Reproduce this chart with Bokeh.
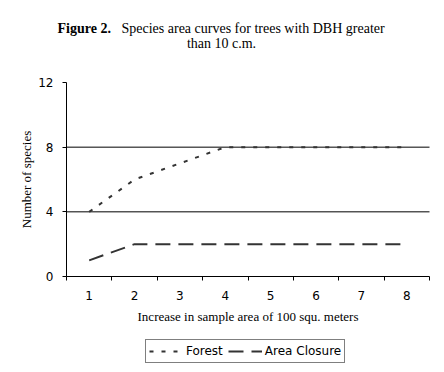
from bokeh.plotting import figure
from bokeh.models import Range1d, FixedTicker, Label, Legend, LegendItem
from bokeh.embed import file_html
from bokeh.resources import INLINE

# ---- data ----
categories = [1, 2, 3, 4, 5, 6, 7, 8]
tick_labels = ["1", "2", "3", "4", "5", "6", "7", "8"]
forest = [4, 6, 7, 8, 8, 8, 8, 8]
area_closure = [1, 2, 2, 2, 2, 2, 2, 2]
y_ticks = [0, 4, 8, 12]
grid_ticks = [4, 8]

# ---- layout (pixel geometry of the plot area) ----
W, H = 436, 364
LEFT_PX, RIGHT_PX, TOP_PX, BOTTOM_PX = 66, 429, 82, 276
x_lo, x_hi = categories[0] - 0.5, categories[-1] + 0.5
y_lo, y_hi = y_ticks[0], y_ticks[-1]
ppx = (RIGHT_PX - LEFT_PX) / (x_hi - x_lo)
ppy = (BOTTOM_PX - TOP_PX) / (y_hi - y_lo)


def xd(px):
    return x_lo + (px - LEFT_PX) / ppx


def yd(py):
    return y_lo + (BOTTOM_PX - py) / ppy


p = figure(width=W, height=H, output_backend="svg", toolbar_location=None,
           x_range=Range1d(xd(0), xd(W)), y_range=Range1d(yd(H), yd(0)),
           min_border_left=0, min_border_right=0, min_border_top=0,
           min_border_bottom=0)
p.outline_line_color = None
p.background_fill_color = "white"
p.border_fill_color = "white"
p.xgrid.grid_line_color = None
p.ygrid.grid_line_color = None

# horizontal gridlines limited to the plot area
p.segment(x0=[x_lo] * len(grid_ticks), y0=grid_ticks,
          x1=[x_hi] * len(grid_ticks), y1=grid_ticks,
          line_color="black", line_width=1)

# ---- x axis ----
xa = p.xaxis[0]
xa.fixed_location = y_lo
xa.bounds = (x_lo, x_hi)
xa.ticker = FixedTicker(ticks=categories,
                        minor_ticks=[c - 0.5 for c in categories] + [categories[-1] + 0.5])
xa.major_label_overrides = {c: t for c, t in zip(categories, tick_labels)}
xa.major_tick_line_color = None
xa.major_tick_out = 0
xa.major_tick_in = 0
xa.minor_tick_out = 4
xa.minor_tick_in = 0
xa.minor_tick_line_color = "black"
xa.axis_line_color = "black"
xa.major_label_text_font = "DejaVu Sans"
xa.major_label_text_font_size = "12px"
xa.major_label_text_color = "black"
xa.major_label_standoff = 10
xa.axis_label = "Increase in sample area of 100 squ. meters"
xa.axis_label_text_font = "Liberation Serif"
xa.axis_label_text_font_style = "normal"
xa.axis_label_text_font_size = "13px"
xa.axis_label_text_color = "black"
xa.axis_label_standoff = 6

# ---- y axis ----
ya = p.yaxis[0]
ya.fixed_location = x_lo
ya.bounds = (y_lo, y_hi)
ya.ticker = FixedTicker(ticks=y_ticks)
ya.major_tick_out = 4
ya.major_tick_in = 0
ya.minor_tick_line_color = None
ya.major_tick_line_color = "black"
ya.axis_line_color = "black"
ya.major_label_text_font = "DejaVu Sans"
ya.major_label_text_font_size = "12px"
ya.major_label_text_color = "black"
ya.major_label_standoff = 9
ya.axis_label = "Number of species"
ya.axis_label_text_font = "Liberation Serif"
ya.axis_label_text_font_style = "normal"
ya.axis_label_text_font_size = "13px"
ya.axis_label_text_color = "black"
ya.axis_label_standoff = 1

# ---- series ----
r1 = p.line(categories, forest, line_color="#333333", line_width=2, line_dash="4 8")
r2 = p.line(categories, area_closure, line_color="#333333", line_width=2, line_dash="15 8")

# ---- title ----
p.add_layout(Label(x=xd(57), y=yd(28), text="Figure 2.",
                   text_font="Liberation Serif", text_font_style="bold",
                   text_font_size="14px", text_color="black",
                   text_baseline="alphabetic", text_align="left"))
p.add_layout(Label(x=xd(121), y=yd(28),
                   text="Species area curves for trees with DBH greater",
                   text_font="Liberation Serif", text_font_size="14px", text_color="black",
                   text_baseline="alphabetic", text_align="left"))
p.add_layout(Label(x=xd(221), y=yd(43), text="than 10 c.m.",
                   text_font="Liberation Serif", text_font_size="14px", text_color="black",
                   text_baseline="alphabetic", text_align="center"))

# ---- legend ----
legend = Legend(items=[LegendItem(label="Forest", renderers=[r1]),
                       LegendItem(label="Area Closure", renderers=[r2])],
                orientation="horizontal", location=(145, H - 363))
legend.border_line_color = "black"
legend.border_line_width = 1
legend.background_fill_color = "white"
legend.background_fill_alpha = 1
legend.label_text_font = "DejaVu Sans"
legend.label_text_font_size = "12px"
legend.label_text_color = "black"
legend.glyph_width = 34
legend.glyph_height = 16
legend.label_height = 16
legend.label_standoff = 3
legend.spacing = 5
legend.padding = 3
legend.margin = 0
p.add_layout(legend, "center")

open("out.html", "w").write(file_html(p, INLINE))
